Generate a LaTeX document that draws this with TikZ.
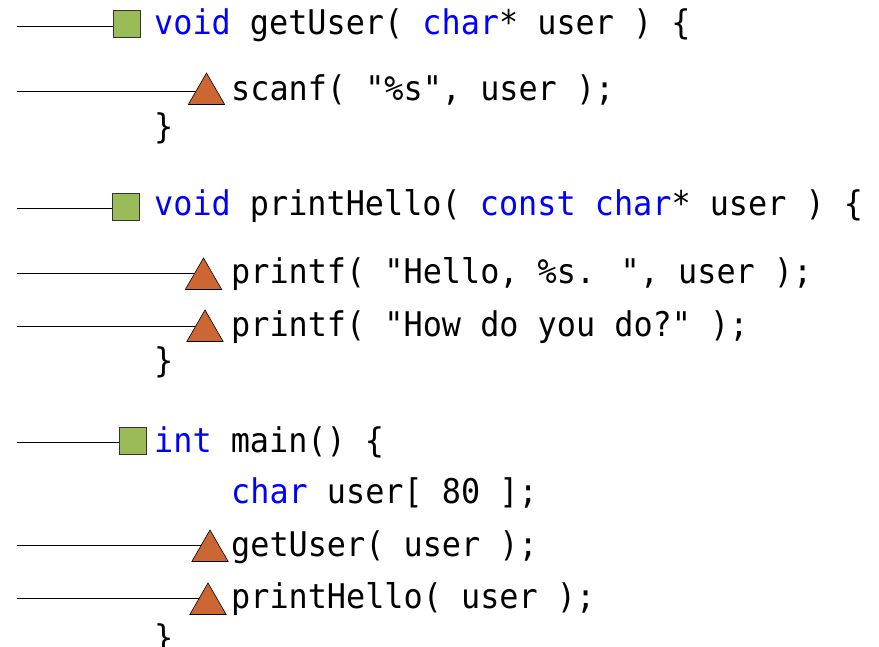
\documentclass[tikz,border=0pt]{standalone}
\usepackage{fontspec}
\newfontfamily\codefont[FakeStretch=0.936]{DejaVu Sans Mono}
\usetikzlibrary{shapes.geometric,backgrounds}
\definecolor{kw}{RGB}{0,0,255}
\definecolor{sqfill}{RGB}{155,187,89}
\definecolor{trifill}{RGB}{204,102,51}
\tikzset{
  codeline/.style={anchor=base west, inner sep=0pt, font=\codefont\fontsize{34}{40}\selectfont},
  sqbox/.style={draw=black!80, fill=sqfill, minimum size=27pt, inner sep=0pt, line width=0.8pt},
  tribox/.style={regular polygon, regular polygon sides=3, draw=black, fill=trifill, minimum size=42pt, inner sep=0pt, line width=0.6pt},
  conn/.style={draw=black, line width=0.8pt}
}
\newcommand{\kwd}[1]{\textcolor{kw}{#1}}
\begin{document}
\begin{tikzpicture}[x=1pt,y=-1pt]
\useasboundingbox (0,0) rectangle (879,647);
% code lines
\node[codeline] (l1) at (154,35) {\kwd{void} getUser( \kwd{char}* user ) \{};
\node[codeline] (l2) at (231,101) {scanf( "\%s", user );};
\node[codeline] (b1) at (154,139) {\}};
\node[codeline] (l4) at (154,216) {\kwd{void} printHello( \kwd{const} \kwd{char}* user ) \{};
\node[codeline] (l5) at (231,284) {printf( "Hello, \%s. ", user );};
\node[codeline] (l6) at (231,337) {printf( "How do you do?" );};
\node[codeline] (b2) at (154,373) {\}};
\node[codeline] (l7) at (154,452) {\kwd{int} main() \{};
\node[codeline] (l8) at (231,503) {\kwd{char} user[ 80 ];};
\node[codeline] (l9) at (231,556) {getUser( user );};
\node[codeline] (l10) at (231,608) {printHello( user );};
\node[codeline] (b3) at (154,649) {\}};
% markers
\node[sqbox] (s1) at (127,23.5) {};
\node[sqbox] (s2) at (126,206.5) {};
\node[sqbox] (s3) at (133,440.5) {};
\node[tribox] (t1) at (206.5,94) {};
\node[tribox] (t2) at (203.5,279) {};
\node[tribox] (t3) at (205,331) {};
\node[tribox] (t4) at (210,551) {};
\node[tribox] (t5) at (208,604) {};
% free ends
\coordinate (c1) at (17,26);
\coordinate (c2) at (17,91);
\coordinate (c4) at (17,208);
\coordinate (c5) at (17,273);
\coordinate (c6) at (17,326);
\coordinate (c7) at (17,442);
\coordinate (c9) at (17,545);
\coordinate (c10) at (17,598);
\begin{pgfonlayer}{background}
\draw[conn] (c1) -- (c1 -| s1.center);
\draw[conn] (c2) -- (c2 -| t1.center);
\draw[conn] (c4) -- (c4 -| s2.center);
\draw[conn] (c5) -- (c5 -| t2.center);
\draw[conn] (c6) -- (c6 -| t3.center);
\draw[conn] (c7) -- (c7 -| s3.center);
\draw[conn] (c9) -- (c9 -| t4.center);
\draw[conn] (c10) -- (c10 -| t5.center);
\end{pgfonlayer}
\end{tikzpicture}
\end{document}
